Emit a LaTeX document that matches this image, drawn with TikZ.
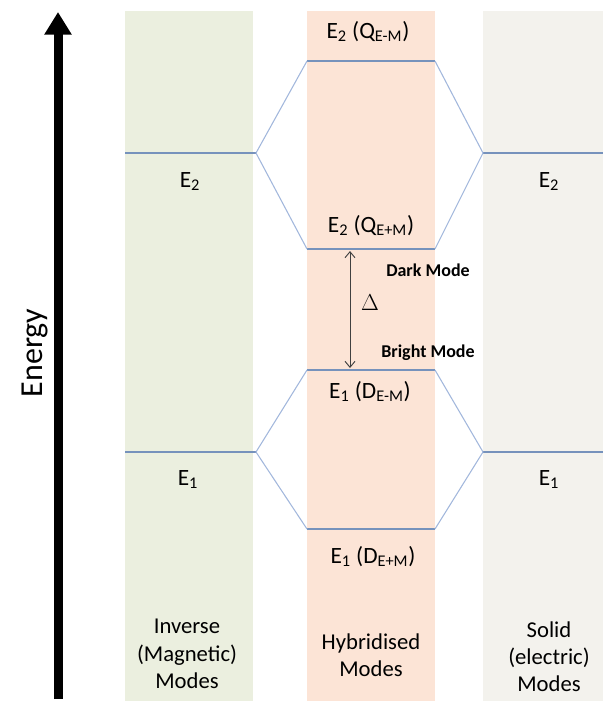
\documentclass[tikz,border=0pt]{standalone}
\usepackage{fontspec}
\setmainfont{Carlito}
\usepackage{amsmath}
\usetikzlibrary{arrows,arrows.meta,shapes}
\definecolor{invcol}{RGB}{235,239,223}
\definecolor{hybcol}{RGB}{252,228,214}
\definecolor{solcol}{RGB}{243,242,237}
\definecolor{levcol}{RGB}{118,146,188}
\definecolor{linkcol}{RGB}{162,183,220}
\tikzstyle{level}=[draw=levcol,line width=1pt]
\tikzstyle{link}=[draw=linkcol,line width=0.8pt]
\tikzstyle{state}=[font=\fontsize{17.5}{20.6}\selectfont,anchor=base,inner sep=0pt]
\tikzstyle{mode}=[font=\fontsize{13.5}{16}\selectfont\bfseries,anchor=base,inner sep=0pt]
\tikzstyle{column label}=[font=\fontsize{17}{20.6}\selectfont,align=center,anchor=north,inner sep=0pt]

\begin{document}
\begin{tikzpicture}[x=0.75pt,y=-0.75pt]
    \useasboundingbox (0,0) rectangle (603,701);
    % Draw the three columns of modes
    \fill[invcol] (125,11) rectangle (253,701);
    \fill[hybcol] (307,11) rectangle (435,701);
    \fill[solcol] (483,11) rectangle (603,701);

    % Energy axis
    \coordinate (axislow) at (58,699);
    \coordinate (axishigh) at (58,12);
    \draw[line width=6.75pt,-{Triangle[width=19.5pt,length=17pt]}] (axislow) -- (axishigh);
    \node[rotate=90,anchor=base,font=\fontsize{24}{28}\selectfont,inner sep=0pt] (energy) at (42,353) {Energy};

    % End points of the levels
    \foreach \pos/\name in {{(125,153)/inv2},{(256,153)/inv2r},{(125,452)/inv1},{(256,452)/inv1r},
                            {(307,61)/qem},{(435,61)/qemr},{(307,249)/qep},{(435,249)/qepr},
                            {(307,370)/dem},{(435,370)/demr},{(307,529)/dep},{(435,529)/depr},
                            {(483,153)/sol2},{(603,153)/sol2r},{(483,452)/sol1},{(603,452)/sol1r}}
        \node[coordinate] (\name) at \pos {};

    % Levels
    \foreach \source/\dest in {inv2/inv2r, inv1/inv1r, qem/qemr, qep/qepr, dem/demr, dep/depr, sol2/sol2r, sol1/sol1r}
        \path[level] (\source) -- (\dest);

    % Hybridisation links
    \foreach \source/\dest in {inv2r/qem, inv2r/qep, qemr/sol2, qepr/sol2,
                               inv1r/dem, inv1r/dep, demr/sol1, depr/sol1}
        \path[link] (\source) -- (\dest);

    % Level labels
    \node[state] (lqem) at (368,38) {E\textsubscript{2} (Q\textsubscript{E-M})};
    \node[state] (linv2) at (190,187) {E\textsubscript{2}};
    \node[state] (lsol2) at (549,187) {E\textsubscript{2}};
    \node[state] (lqep) at (371,232) {E\textsubscript{2} (Q\textsubscript{E+M})};
    \node[state] (ldem) at (370,398) {E\textsubscript{1} (D\textsubscript{E-M})};
    \node[state] (linv1) at (188,485) {E\textsubscript{1}};
    \node[state] (lsol1) at (549,485) {E\textsubscript{1}};
    \node[state] (ldep) at (373,563) {E\textsubscript{1} (D\textsubscript{E+M})};

    % Splitting between dark and bright mode
    \coordinate (gaptop) at (350,251);
    \coordinate (gapbot) at (350,368);
    \draw[{Straight Barb[length=4.5pt,width=7.5pt]}-{Straight Barb[length=4.5pt,width=7.5pt]},black!75,line width=0.7pt] (gaptop) -- (gapbot);
    \node[anchor=base,inner sep=0pt,font=\fontsize{16}{18}\selectfont] (delta) at (370,310) {$\Delta$};
    \node[mode] (dark) at (428,276) {Dark Mode};
    \node[mode] (bright) at (428,357) {Bright Mode};

    % Column labels
    \node[column label] (inverse) at (187,619) {Inverse\\(Magnetic)\\Modes};
    \node[column label] (hybrid) at (371,633) {Hybridised\\Modes};
    \node[column label] (solid) at (549,621) {Solid\\(electric)\\Modes};
\end{tikzpicture}
\end{document}
